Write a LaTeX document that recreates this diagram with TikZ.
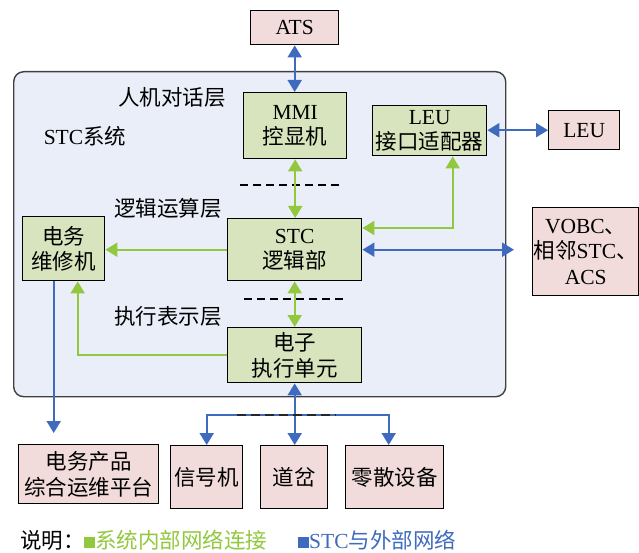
\documentclass[tikz,border=0pt]{standalone}
\usepackage{fontspec}
\setmainfont{Liberation Serif}
\newfontfamily\cjk{Noto Sans CJK SC}
\usetikzlibrary{arrows.meta}
\definecolor{pinkfill}{HTML}{F2DCDB}
\definecolor{greenfill}{HTML}{D7E4BD}
\definecolor{bluefill}{HTML}{E9EEF8}
\definecolor{garrow}{HTML}{92C83E}
\definecolor{barrow}{HTML}{3F6BBF}
\begin{document}
\begin{tikzpicture}[x=1pt,y=-1pt,
  font=\fontsize{21.5}{25.5}\selectfont,
  boxbase/.style={draw=black, line width=1.4pt, inner sep=0pt, align=center, anchor=north west},
  pbox/.style={boxbase, fill=pinkfill},
  gbox/.style={boxbase, fill=greenfill},
  lbl/.style={inner sep=0pt},
  tip/.tip={Triangle[length=12pt,width=14pt]},
  garr/.style={draw=garrow, line width=2pt, tip-tip},
  garrone/.style={draw=garrow, line width=2pt, -tip},
  barr/.style={draw=barrow, line width=2pt, tip-tip},
  barrone/.style={draw=barrow, line width=2pt, -tip},
  layerdash/.style={draw=black, line width=1.8pt, dash pattern=on 8pt off 5pt}
]
\useasboundingbox (0,0) rectangle (639,553);
\fill[white] (0,0) rectangle (639,553);

% system container
\node[draw=black!75, line width=1.4pt, fill=bluefill, rounded corners=10pt,
      minimum width=492, minimum height=325, anchor=north west, inner sep=0pt] (sys) at (13,71) {};

% nodes
\node[pbox, minimum width=88, minimum height=34] (ats) at (250,10) {ATS};
\node[gbox, minimum width=103, minimum height=66] (mmi) at (243,92) {MMI\\{\cjk 控显机}};
\node[gbox, minimum width=114, minimum height=50] (leua) at (372,105) {LEU\\{\cjk 接口适配器}};
\node[pbox, minimum width=71, minimum height=39] (leu) at (548,110) {LEU};
\node[gbox, minimum width=82, minimum height=64] (dwm) at (22,216) {{\cjk 电务}\\{\cjk 维修机}};
\node[gbox, minimum width=134, minimum height=62] (stc) at (227,218) {STC\\{\cjk 逻辑部}};
\node[pbox, minimum width=106, minimum height=88] (vobc) at (532,207) {VOBC{\cjk 、}\\{\cjk 相邻}STC{\cjk 、}\\ACS};
\node[gbox, minimum width=134, minimum height=55] (exe) at (227,327) {{\cjk 电子}\\{\cjk 执行单元}};
\node[pbox, minimum width=140, minimum height=59] (plat) at (18,444) {{\cjk 电务产品}\\{\cjk 综合运维平台}};
\node[pbox, minimum width=72, minimum height=63] (sig) at (170,445) {{\cjk 信号机}};
\node[pbox, minimum width=67, minimum height=63] (sw) at (260,445) {{\cjk 道岔}};
\node[pbox, minimum width=98, minimum height=63] (misc) at (345,445) {{\cjk 零散设备}};

% layer labels
\node[lbl] (l1) at (172,97) {\cjk 人机对话层};
\node[lbl] (l0) at (85,136) {STC{\cjk 系统}};
\node[lbl] (l2) at (168,208) {\cjk 逻辑运算层};
\node[lbl] (l3) at (168,316) {\cjk 执行表示层};

% layer dashes
\draw[layerdash] (240,185) -- (340,185);
\draw[layerdash] (244,299) -- (344,299);

% connectors
\draw[barr] (ats.south) -- (ats.south |- mmi.north);
\draw[barr] (leua.east |- leu.west) -- (leu.west);
\draw[garr] (mmi.south) -- (mmi.south |- stc.north);
\draw[garr] ([yshift=-10pt]stc.north east) -| ([xshift=23pt]leua.south);
\draw[garrone] (stc.west) -- (stc.west -| dwm.east);
\draw[barr, shorten >=18pt] (stc.east) -- (stc.east -| vobc.west);
\draw[garr] (stc.south) -- (stc.south |- exe.north);
\draw[garrone] (exe.west) -| ([xshift=14pt]dwm.south);
\draw[barrone, shorten >=11pt] ([xshift=-10pt]dwm.south) -- ([xshift=-10pt]dwm.south |- plat.north);
\draw[barr] (exe.south) -- (exe.south |- sw.north);
\coordinate (br) at (294,415);
\draw[barrone] (br) -| (sig.north);
\draw[barrone] (br) -| ([xshift=-6pt]misc.north);
\draw[draw=black!85, line width=2.6pt, dash pattern=on 9pt off 5pt] (237,415) -- (336,415);

% legend
\node[lbl, anchor=west] (lg0) at (20,540) {\cjk 说明：};
\node[lbl, anchor=west, text=garrow] (lg1) at (84,540) {\rule{11pt}{11pt}{\cjk 系统内部网络连接}};
\node[lbl, anchor=west, text=barrow] (lg2) at (298,540) {\rule{11pt}{11pt}STC{\cjk 与外部网络}};
\end{tikzpicture}
\end{document}
